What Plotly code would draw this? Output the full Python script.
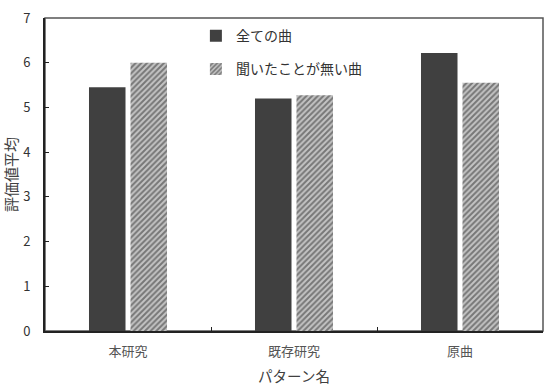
import plotly.graph_objects as go

categories = ["本研究", "既存研究", "原曲"]
all_songs = [5.45, 5.2, 6.22]
unheard_songs = [6.0, 5.27, 5.55]
series_names = ["全ての曲", "聞いたことが無い曲"]

FONT = "Noto Sans CJK JP"

fig = go.Figure()
fig.add_trace(go.Bar(
    x=categories, y=all_songs, name=series_names[0], legendgroup="a",
    marker=dict(color="#404040", line=dict(width=0)),
))
fig.add_trace(go.Bar(
    x=categories, y=unheard_songs, name=series_names[1], legendgroup="b",
    marker=dict(color="white", line=dict(width=0),
                pattern=dict(shape="/", fgcolor="#2a2a2a", bgcolor="#c4c4c4",
                             size=4, solidity=0.5)),
))

fig.update_layout(
    width=546, height=388,
    margin=dict(l=45, r=3, t=18, b=57),
    paper_bgcolor="white", plot_bgcolor="white",
    font=dict(family=FONT, size=13, color="#404040"),
    barmode="group", bargap=0.5, bargroupgap=0.12,
    showlegend=True,
    legend=dict(x=0.303, y=0.993, xanchor="left", yanchor="top",
                bgcolor="rgba(0,0,0,0)", font=dict(size=14, color="#333333"),
                tracegroupgap=12, itemwidth=30),
    xaxis=dict(
        showline=True, linecolor="#222222", linewidth=2,
        ticks="inside", tickson="boundaries", ticklen=4, tickcolor="#222222",
        ticklabelstandoff=7,
        title=dict(text="パターン名", font=dict(size=14.5, color="#404040"), standoff=13),
        tickfont=dict(size=13, color="#555555"),
    ),
    yaxis=dict(
        range=[0, 7], dtick=1, showgrid=False, zeroline=False,
        showline=True, linecolor="#222222", linewidth=2,
        ticks="inside", ticklen=4, tickcolor="#222222",
        ticklabelstandoff=10,
        title=dict(text="評価値平均", font=dict(size=15, color="#404040"), standoff=11),
        tickfont=dict(size=13, color="#333333"),
    ),
    shapes=[dict(type="rect", xref="paper", yref="paper", x0=0, y0=0, x1=1, y1=1,
                 line=dict(color="#555555", width=1.5), layer="below")],
)

fig.write_html("out.html")
